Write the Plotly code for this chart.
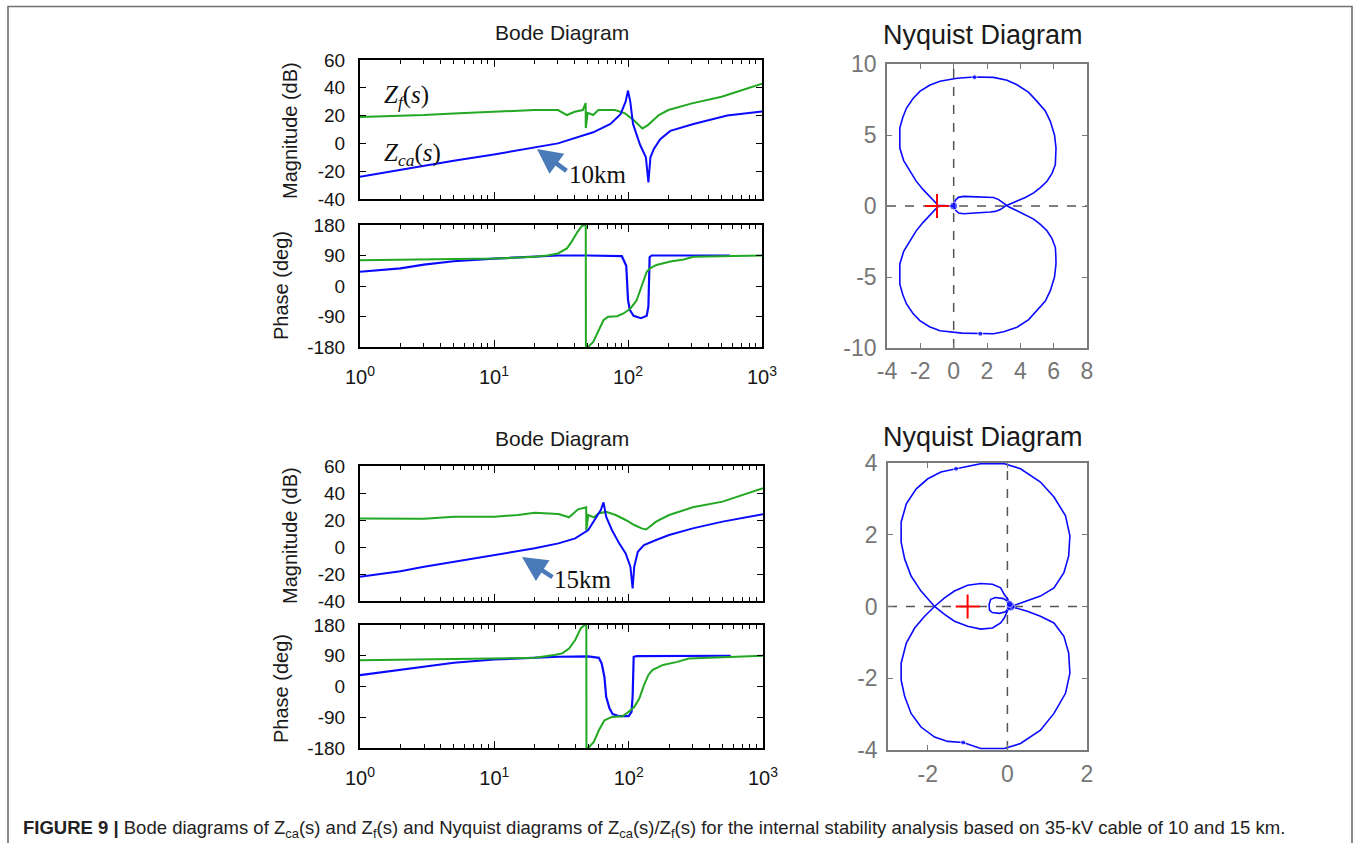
import plotly.graph_objects as go

# Figure slightly shorter than the window so the page never overflows.
OFF = 0
PW, PH = 1356, 843

# ---------------- data ----------------
# Top (10 km) Bode magnitude
f_ca10_mag = [1, 2, 3, 5, 10, 20, 30, 55, 74, 88, 96, 100, 104, 109, 123, 136, 142, 147, 156, 174, 207, 308, 550, 1000]
m_ca10 = [-24, -19, -16, -12.5, -8, -3, 0, 8, 14, 21, 30, 38, 30, 14, -1, -10, -28, -10, -4, 3, 9, 14, 20, 23]
f_f10_mag = [1, 3, 5, 10, 20, 30, 35, 40, 46, 48.3, 48.4, 50, 55, 60, 80, 95, 110, 128, 140, 170, 200, 300, 500, 1000]
m_f10 = [19, 20.4, 21.6, 22.8, 24, 24, 20.4, 22.8, 24, 29, 11, 22, 20.4, 24, 24, 21.6, 16.8, 10.8, 13, 20.4, 24, 28.8, 33.6, 43]
# Top (10 km) Bode phase
f_ca10_ph = [1, 2, 3, 5, 10, 20, 30, 50, 90, 97, 100, 103, 110, 125, 138, 142, 145, 150, 575]
p_ca10 = [42, 52, 63, 73, 81, 86, 90, 90, 88, 60, -40, -70, -88, -95, -88, -60, 85, 90, 90]
f_f10_ph = [1, 10, 20, 25, 30, 35, 38, 42, 45.5, 48.4, 48.5, 50.6, 55, 60, 65.6, 71, 83, 92.5, 104, 116, 126, 138, 146, 163, 207, 260, 308, 1000]
p_f10 = [76, 81, 86, 90, 96, 111, 131, 160, 178, 180, -180, -179, -165, -131, -101, -91, -89, -81, -67, -42, -2, 42, 52, 62, 72, 78, 86, 90]

# Bottom (15 km) Bode magnitude
f_ca15_mag = [1, 2, 3, 5, 10, 20, 30, 40, 50, 56, 62, 65, 68, 75, 85, 95, 103, 107, 110, 117, 130, 160, 200, 300, 500, 1000]
m_ca15 = [-22, -18, -14.6, -10.9, -6, -1, 2.7, 6.4, 12.6, 20, 27.4, 33, 22.5, 12.6, 2.7, -4.7, -14.6, -30.6, -14.6, -3.5, 1.5, 5.2, 8.9, 13.8, 18.8, 24.2]
f_f15_mag = [1, 3, 5, 10, 15, 20, 30, 36, 42, 48.3, 48.4, 50, 55, 60, 68, 80, 95, 110, 125, 135, 160, 200, 300, 500, 1000]
m_f15 = [21.2, 21, 22.5, 22.5, 23.7, 25.4, 24.4, 22, 27.9, 29.4, 12.6, 23.7, 22, 25, 26, 23.7, 20, 16.3, 13.8, 13, 18.8, 23.7, 29.4, 33.6, 43.5]
# Bottom (15 km) Bode phase
f_ca15_ph = [1, 2, 3, 5, 10, 20, 30, 50, 60, 63, 66, 68, 72, 76, 85, 100, 105, 107, 109, 115, 575]
p_ca15 = [33, 48, 58, 69.5, 79, 85, 87, 88, 84, 67, 28, -30, -64, -81, -87, -87, -74, -30, 87, 89, 90]
f_f15_ph = [1, 10, 20, 28, 32, 36, 40, 44, 47, 48.4, 48.5, 50.5, 55, 60, 66, 75, 90, 100, 110, 120, 130, 140, 150, 180, 230, 280, 1000]
p_f15 = [77, 82, 84, 92, 97, 111, 136, 170, 180, 180, -180, -178, -162, -128, -99, -89, -87, -74, -60, -35, 4, 33, 48, 63, 72, 82, 90]

# Top Nyquist (10 km) of Zca/Zf
nyq10_re = [0.0, -0.3, -0.7, -0.95, -1.05, -1.4, -1.83, -2.25, -2.63, -3.0, -3.23, -3.25, -3.23, -3.05, -2.83,
            -2.45, -2.03, -1.45, -0.82, 0.2, 1.25, 2.39, 3.2, 3.8, 4.5, 5.0, 5.5, 5.8, 6.05, 6.14, 6.12, 6.1,
            5.9, 5.6, 5.2, 4.8, 4.3, 3.8, 3.4, 3.1, 2.8, 2.5, 2.2, 1.6, 1.0, 0.6, 0.3, 0.12, 0.0,
            0.1, 0.28, 0.6, 1.0, 1.6, 2.0, 2.39, 2.7, 3.0, 3.3, 3.8, 4.3, 4.8, 5.2, 5.6, 5.9, 6.1, 6.13, 6.14,
            6.05, 5.8, 5.5, 5.0, 4.5, 3.8, 3.0, 2.39, 1.6, 0.5, -0.82, -1.45, -2.03, -2.45, -2.83, -3.05, -3.23,
            -3.25, -3.23, -3.0, -2.63, -2.25, -1.83, -1.4, -1.05, -0.95, -0.7]
nyq10_im = [0.0, 0.0, 0.0, 0.05, 0.2, 0.6, 1.15, 1.75, 2.44, 3.2, 4.08, 4.8, 5.5, 6.25, 6.9,
            7.55, 8.07, 8.5, 8.78, 9.0, 9.08, 9.06, 8.85, 8.54, 8.0, 7.37, 6.7, 5.96, 5.0, 4.08, 3.5, 2.91,
            2.3, 1.74, 1.3, 0.92, 0.6, 0.33, 0.15, 0.0, -0.25, -0.38, -0.42, -0.45, -0.5, -0.55, -0.5, -0.3, 0.0,
            0.4, 0.61, 0.68, 0.66, 0.63, 0.62, 0.6, 0.45, 0.2, -0.05, -0.33, -0.6, -0.92, -1.3, -1.74, -2.3, -2.91, -3.5, -4.08,
            -5.0, -5.96, -6.7, -7.37, -8.0, -8.54, -8.85, -9.0, -9.0, -8.95, -8.78, -8.5, -8.07, -7.55, -6.9, -6.25, -5.5,
            -4.8, -4.08, -3.2, -2.44, -1.75, -1.15, -0.6, -0.2, -0.05, 0.0]
nyq10_dot_re = [1.25, 1.6, 0.0]
nyq10_dot_im = [9.07, -9.0, 0.0]
nyq10_dot_size = [5, 5, 8]

# Bottom Nyquist (15 km) of Zca/Zf
nyq15_re = [0.08, 0.0, -0.1, -0.3, -0.42, -0.46, -0.45, -0.38, -0.2, -0.05, 0.02, 0.04,
            -0.08, -0.17, -0.375, -0.67, -1.0, -1.33, -1.58, -1.83,
            -2.08, -2.33, -2.54, -2.67, -2.67, -2.58, -2.42, -2.17, -1.83, -1.5, -1.11, -0.67, -0.08, 0.33, 0.83,
            1.17, 1.46, 1.57, 1.54, 1.42, 1.17, 0.83, 0.5, 0.25, 0.08,
            0.25, 0.5, 0.83, 1.17, 1.42, 1.54, 1.57, 1.46, 1.17, 0.83, 0.33, -0.08, -0.67, -1.29, -1.67, -2.0,
            -2.29, -2.54, -2.67, -2.67, -2.58, -2.42, -2.17, -1.83,
            -1.58, -1.33, -1.0, -0.67, -0.375, -0.17, -0.08, 0.0, 0.08]
nyq15_im = [0.0, 0.15, 0.22, 0.25, 0.2, 0.05, -0.1, -0.17, -0.19, -0.15, -0.05, 0.15,
            0.34, 0.52, 0.62, 0.64, 0.59, 0.43, 0.24, 0.0,
            -0.27, -0.6, -1.02, -1.58, -2.05, -2.51, -2.98, -3.36, -3.64, -3.76, -3.79, -3.96, -3.96, -3.82, -3.45,
            -2.98, -2.42, -1.86, -1.3, -0.83, -0.46, -0.27, -0.13, -0.04, 0.0,
            0.06, 0.15, 0.29, 0.52, 0.94, 1.41, 1.97, 2.53, 3.05, 3.47, 3.84, 3.98, 3.98, 3.84, 3.75, 3.56,
            3.28, 2.86, 2.35, 1.79, 1.32, 0.85, 0.43, 0.0,
            -0.22, -0.41, -0.55, -0.63, -0.6, -0.46, -0.32, -0.13, 0.0]
nyq15_dot_re = [-1.29, -1.11, 0.08, 0.06]
nyq15_dot_im = [3.84, -3.79, 0.0, 0.07]
nyq15_dot_size = [5, 5, 9, 7]

critical_re = [-1]
critical_im = [0]

bode_xtick_vals = [1, 10, 100, 1000]
bode_xtick_text = ["10<sup>0</sup>", "10<sup>1</sup>", "10<sup>2</sup>", "10<sup>3</sup>"]
mag_ticks = [-40, -20, 0, 20, 40, 60]
phase_ticks = [-180, -90, 0, 90, 180]
nyq10_xticks = [-4, -2, 0, 2, 4, 6, 8]
nyq10_yticks = [-10, -5, 0, 5, 10]
nyq15_xticks = [-2, 0, 2]
nyq15_yticks = [-4, -2, 0, 2, 4]
minor_vals = [m * d for d in (1, 10, 100) for m in range(2, 10)]

caption = ("<b>FIGURE 9 |</b> Bode diagrams of Z<sub>ca</sub>(s) and Z<sub>f</sub>(s) and Nyquist diagrams of "
           "Z<sub>ca</sub>(s)/Z<sub>f</sub>(s) for the internal stability analysis based on 35-kV cable of 10 and 15 km.")

# ---------------- styling helpers ----------------
BLUE = "#0a0aff"
GREEN = "#22a822"
FONT = "Liberation Sans, Arial, sans-serif"
SERIF = "Liberation Serif, Times New Roman, serif"


def lab(vals):
    return [str(v) for v in vals]  # plain hyphen minus, as in the reference


def dx(a, b):
    return [(a - OFF) / PW, (b - OFF) / PW]


def dy(top, bottom):
    return [1 - (bottom - OFF) / PH, 1 - (top - OFF) / PH]


def bode_x(domain, anchor, labels):
    return dict(domain=domain, anchor=anchor, type="log", range=[0, 3], showline=True, linecolor="black",
                linewidth=2, mirror="ticks", ticks="inside", ticklen=7, tickwidth=1.3, tickcolor="black",
                tickmode="array", tickvals=bode_xtick_vals, ticktext=bode_xtick_text, showticklabels=labels,
                showgrid=False, zeroline=False, ticklabelstandoff=11,
                tickfont=dict(family=FONT, size=20, color="#151515"),
                minor=dict(ticks="inside", ticklen=4, tickwidth=1.2, tickcolor="black", tickmode="array",
                           tickvals=minor_vals, showgrid=False))


def bode_y(domain, anchor, rng, vals):
    return dict(domain=domain, anchor=anchor, range=rng, showline=True, linecolor="black", linewidth=2,
                mirror="ticks", ticks="inside", ticklen=6, tickwidth=1.3, tickcolor="black",
                tickmode="array", tickvals=vals, ticktext=lab(vals), showgrid=False, zeroline=False,
                ticklabelstandoff=9, tickfont=dict(family=FONT, size=19, color="#151515"))


def nyq_axis(domain, anchor, rng, vals, standoff):
    return dict(domain=domain, anchor=anchor, range=rng, showline=True, linecolor="#7a7a7a", linewidth=1.6,
                mirror="ticks", ticks="inside", ticklen=5, tickwidth=1.3, tickcolor="#7a7a7a",
                tickmode="array", tickvals=vals, ticktext=lab(vals), showgrid=False, zeroline=False,
                ticklabelstandoff=standoff, tickfont=dict(family=FONT, size=23, color="#767676"))


fig = go.Figure()

# --- top Bode ---
fig.add_trace(go.Scatter(x=f_f10_mag, y=m_f10, mode="lines", line=dict(color=GREEN, width=2), xaxis="x", yaxis="y"))
fig.add_trace(go.Scatter(x=f_ca10_mag, y=m_ca10, mode="lines", line=dict(color=BLUE, width=2), xaxis="x", yaxis="y"))
fig.add_trace(go.Scatter(x=f_ca10_ph, y=p_ca10, mode="lines", line=dict(color=BLUE, width=2.2), xaxis="x2", yaxis="y2"))
fig.add_trace(go.Scatter(x=f_f10_ph, y=p_f10, mode="lines", line=dict(color=GREEN, width=2), xaxis="x2", yaxis="y2"))
# --- top Nyquist ---
fig.add_trace(go.Scatter(x=nyq10_re, y=nyq10_im, mode="lines", line=dict(color=BLUE, width=1.6), xaxis="x3", yaxis="y3"))
fig.add_trace(go.Scatter(x=nyq10_dot_re, y=nyq10_dot_im, mode="markers",
                         marker=dict(color=BLUE, size=nyq10_dot_size), xaxis="x3", yaxis="y3"))
fig.add_trace(go.Scatter(x=critical_re, y=critical_im, mode="markers",
                         marker=dict(symbol="cross-thin", size=17, line=dict(color="red", width=2)),
                         xaxis="x3", yaxis="y3"))
# --- bottom Bode ---
fig.add_trace(go.Scatter(x=f_f15_mag, y=m_f15, mode="lines", line=dict(color=GREEN, width=2), xaxis="x4", yaxis="y4"))
fig.add_trace(go.Scatter(x=f_ca15_mag, y=m_ca15, mode="lines", line=dict(color=BLUE, width=2), xaxis="x4", yaxis="y4"))
fig.add_trace(go.Scatter(x=f_ca15_ph, y=p_ca15, mode="lines", line=dict(color=BLUE, width=2.2), xaxis="x5", yaxis="y5"))
fig.add_trace(go.Scatter(x=f_f15_ph, y=p_f15, mode="lines", line=dict(color=GREEN, width=2), xaxis="x5", yaxis="y5"))
# --- bottom Nyquist ---
fig.add_trace(go.Scatter(x=nyq15_re, y=nyq15_im, mode="lines", line=dict(color=BLUE, width=1.6), xaxis="x6", yaxis="y6"))
fig.add_trace(go.Scatter(x=nyq15_dot_re, y=nyq15_dot_im, mode="markers",
                         marker=dict(color=BLUE, size=nyq15_dot_size), xaxis="x6", yaxis="y6"))
fig.add_trace(go.Scatter(x=critical_re, y=critical_im, mode="markers",
                         marker=dict(symbol="cross-thin", size=17, line=dict(color="red", width=2)),
                         xaxis="x6", yaxis="y6"))

fig.update_layout(
    width=PW, height=PH, margin=dict(l=0, r=0, t=0, b=0, autoexpand=False), showlegend=False,
    paper_bgcolor="white", plot_bgcolor="white",
    xaxis=bode_x(dx(360, 762), "y", False),
    yaxis=bode_y(dy(60, 199), "x", [-40, 60], mag_ticks),
    xaxis2=bode_x(dx(360, 762), "y2", True),
    yaxis2=bode_y(dy(225, 347), "x2", [-180, 180], phase_ticks),
    xaxis3=nyq_axis(dx(887, 1087), "y3", [-4, 8], nyq10_xticks, 2),
    yaxis3=nyq_axis(dy(64, 348), "x3", [-10, 10], nyq10_yticks, 4),
    xaxis4=bode_x(dx(360, 763), "y4", False),
    yaxis4=bode_y(dy(466, 601), "x4", [-40, 60], mag_ticks),
    xaxis5=bode_x(dx(360, 763), "y5", True),
    yaxis5=bode_y(dy(625, 748), "x5", [-180, 180], phase_ticks),
    xaxis6=nyq_axis(dx(888, 1087), "y6", [-3, 2], nyq15_xticks, 3),
    yaxis6=nyq_axis(dy(463, 750), "x6", [-4, 4], nyq15_yticks, 4),
)

shapes = [
    dict(type="rect", xref="paper", yref="paper", x0=8 / PW, x1=1352 / PW, y0=-0.05, y1=1 - 6.5 / PH,
         line=dict(color="#707070", width=1.6), layer="below"),
]
for xa, ya, xr, yr in (("x3", "y3", [-4, 8], [-10, 10]), ("x6", "y6", [-3, 2], [-4, 4])):
    shapes.append(dict(type="line", xref=xa, yref=ya, x0=xr[0], x1=xr[1], y0=0, y1=0,
                       line=dict(color="#555", width=1.5, dash="dash"), layer="below"))
    shapes.append(dict(type="line", xref=xa, yref=ya, x0=0, x1=0, y0=yr[0], y1=yr[1],
                       line=dict(color="#555", width=1.5, dash="dash"), layer="below"))
fig.update_layout(shapes=shapes)

ann = []


def txt(x, y, t, size, color="#1a1a1a", family=FONT, angle=0, xanchor="center"):
    ann.append(dict(x=(x - OFF) / PW, y=1 - (y - OFF) / PH, xref="paper", yref="paper", text=t, showarrow=False,
                    font=dict(family=family, size=size, color=color), textangle=angle,
                    xanchor=xanchor, yanchor="middle"))


def arrow(hx, hy, tx, ty):
    ann.append(dict(x=(hx - OFF) / PW, y=1 - (hy - OFF) / PH, xref="paper", yref="paper", text="",
                    showarrow=True, ax=tx - hx, ay=ty - hy, arrowhead=2, arrowsize=1.1, arrowwidth=4.5,
                    arrowcolor="#4a7ab8", standoff=0, startstandoff=0))


for off in (0, 405):
    txt(562, 33 + off, "Bode Diagram", 21)
    txt(290, 131 + off, "Magnitude (dB)", 20, angle=-90)
    txt(281, 286 + off - (2 if off else 0), "Phase (deg)", 20, angle=-90)
txt(983, 35, "Nyquist Diagram", 27)
txt(983, 437, "Nyquist Diagram", 27)

txt(406, 97, "<i>Z<sub>f</sub></i>(<i>s</i>)", 25, color="#111", family=SERIF)
txt(412, 155, "<i>Z<sub>ca</sub></i>(<i>s</i>)", 25, color="#111", family=SERIF)
txt(598, 174, "10km", 25, color="#111", family=SERIF)
txt(583, 579, "15km", 25, color="#111", family=SERIF)
arrow(537, 149, 568, 172)
arrow(522, 557, 554, 578)

txt(21, 829, caption, 18.5, color="#222", xanchor="left")

fig.update_layout(annotations=ann)

fig.write_html("out.html")
